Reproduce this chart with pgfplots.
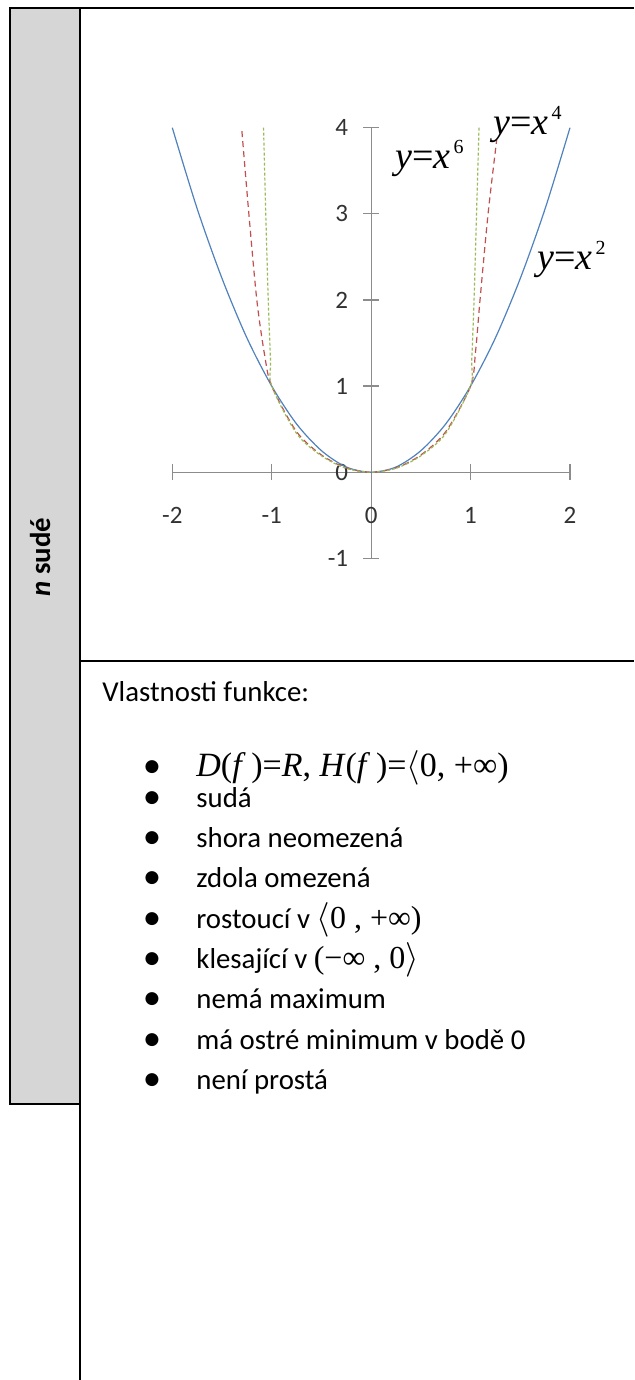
\documentclass[border=0pt]{standalone}
\usepackage{fontspec}
\setmainfont{Carlito}
\newfontfamily\tnr{Liberation Serif}
\newfontfamily\dejavu{DejaVu Sans}
\usepackage{pgfplots}
\pgfplotsset{compat=1.18}

\definecolor{sidegray}{RGB}{214,214,214}
\definecolor{axgray}{RGB}{140,140,140}
\definecolor{tickcol}{RGB}{50,50,50}
\definecolor{xblue}{RGB}{79,129,189}
\definecolor{xred}{RGB}{192,80,77}
\definecolor{xgreen}{RGB}{155,187,89}

% label y = x^n in the style of the equation editor
\newcommand{\curvelabel}[1]{{\tnr\fontsize{19}{19}\selectfont\textit{y}=\textit{x}}\hspace{1.5pt}\raisebox{7.5pt}{\tnr\fontsize{10}{10}\selectfont #1}}
\newcommand{\bodyfont}{\fontsize{14.4}{17}\selectfont}
\newcommand{\mathtnr}{\tnr\fontsize{16}{16}\selectfont}

\begin{document}
\begin{tikzpicture}[x=0.5pt,y=-0.5pt]
\useasboundingbox (0,0) rectangle (634,1380);

% table frame
\draw[line width=0.9pt, fill=sidegray] (10,8) rectangle (80,1104);
\draw[line width=0.9pt] (80,8) -- (634,8);
\draw[line width=0.9pt] (80,1104) -- (80,1380);
\draw[line width=0.9pt] (80,661) -- (634,661);
\node[rotate=90, anchor=base] at (50,557) {\bodyfont\bfseries\textit{n} sudé};

\begin{axis}[
  at={(86.15pt,-279.15pt)}, anchor=south west,
  scale only axis, width=198.85pt, height=215.3pt,
  xmin=-2, xmax=2, ymin=-1, ymax=4,
  axis lines=middle, clip=false,
  axis line style={-, draw=axgray, line width=0.65pt},
  xtick={-2,-1,0,1,2}, xticklabels={-2,-1,0,1,2},
  ytick={-1,0,1,2,3,4}, yticklabels={-1,0,1,2,3,4},
  hide obscured x ticks=false, hide obscured y ticks=false,
  major tick length=8pt, tick align=center,
  tick style={draw=axgray, line width=0.6pt},
  ticklabel style={font=\fontsize{12.5}{13}\selectfont, text=tickcol},
  xticklabel style={yshift=-10pt},
  yticklabel style={xshift=-4pt},
]
\addplot[xblue, line width=0.6pt, smooth] coordinates {
  (-2,4) (-1.75,3.06) (-1.5,2.25) (-1.25,1.56) (-1,1) (-0.75,0.56) (-0.5,0.25)
  (-0.25,0.06) (0,0) (0.25,0.06) (0.5,0.25) (0.75,0.56) (1,1) (1.25,1.56)
  (1.5,2.25) (1.75,3.06) (2,4)};
\addplot[xred, line width=0.6pt, dash pattern=on 3pt off 2pt, smooth, tension=0.5] coordinates {
  (-1.30,3.96) (-1.23,3.0) (-1.15,2.0) (-1.07,1.35) (-1,1) (-0.75,0.47) (-0.5,0.2)
  (-0.25,0.05) (0,0) (0.25,0.05) (0.5,0.2) (0.75,0.47) (1,1) (1.05,1.4)
  (1.095,2) (1.176,3) (1.263,3.86)};
\addplot[xgreen, line width=0.6pt, dash pattern=on 1.5pt off 1pt, smooth, tension=0.5] coordinates {
  (-1.082,4.0) (-1.06,3.0) (-1.035,2.0) (-1.012,1.3) (-1,1) (-0.75,0.45) (-0.5,0.19)
  (-0.25,0.045) (0,0) (0.25,0.045) (0.5,0.19) (0.75,0.45) (1,1) (1.012,1.3)
  (1.035,2.0) (1.06,3.0) (1.085,4.0)};
\end{axis}

% curve labels
\node[anchor=base west, inner sep=0] at (395,169) {\curvelabel{6}};
\node[anchor=base west, inner sep=0] at (493,135) {\curvelabel{4}};
\node[anchor=base west, inner sep=0] at (537,270) {\curvelabel{2}};

% properties
\node[anchor=base west, inner sep=0] at (102,701) {\bodyfont Vlastnosti funkce:};
\foreach \yc in {767,798,838,878,919,959,999,1040,1080}
  \node[anchor=center, inner sep=0] at (152,\yc) {\dejavu\fontsize{8.5}{8.5}\selectfont ●};
\node[anchor=base west, inner sep=0] at (196,776) {\tnr\fontsize{17}{17}\selectfont
  \textit{D}(\textit{f}\,)=\textit{R}, \textit{H}(\textit{f}\,)=$\langle$0, +∞)};
\node[anchor=base west, inner sep=0] at (196,807) {\bodyfont sudá};
\node[anchor=base west, inner sep=0] at (196,847) {\bodyfont shora neomezená};
\node[anchor=base west, inner sep=0] at (196,887) {\bodyfont zdola omezená};
\node[anchor=base west, inner sep=0] at (196,928) {\bodyfont rostoucí v {\mathtnr$\langle$0 , +∞)}};
\node[anchor=base west, inner sep=0] at (196,968) {\bodyfont klesající v {\mathtnr(−∞ , 0$\rangle$}};
\node[anchor=base west, inner sep=0] at (196,1008) {\bodyfont nemá maximum};
\node[anchor=base west, inner sep=0] at (196,1049) {\bodyfont má ostré minimum v bodě 0};
\node[anchor=base west, inner sep=0] at (196,1089) {\bodyfont není prostá};
\end{tikzpicture}
\end{document}
